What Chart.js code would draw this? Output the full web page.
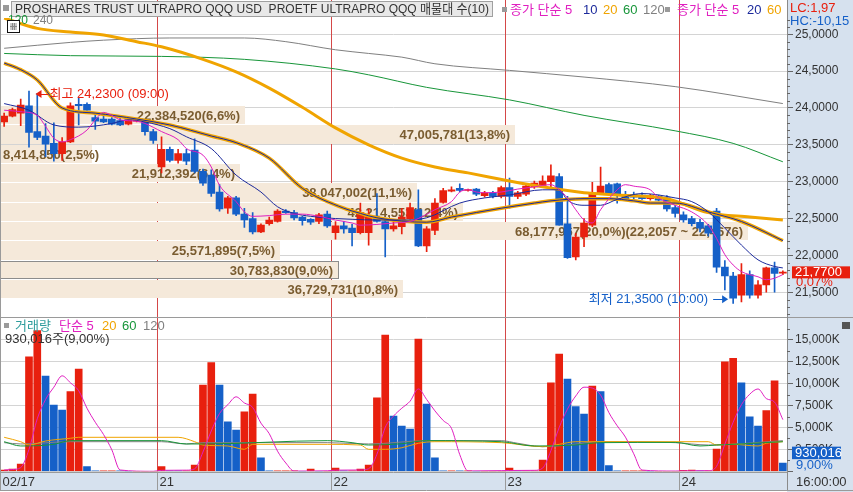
<!DOCTYPE html>
<html lang="ko">
<head>
  <meta charset="UTF-8">
  <meta name="viewport" content="width=device-width, initial-scale=1.0">
  <title>PROSHARES TRUST ULTRAPRO QQQ 매물대</title>
  <script src="https://cdn.jsdelivr.net/npm/chart.js"></script>
  <style>
    body, html { margin: 0; padding: 0; background: #fff; overflow: hidden; }
    canvas { display: block; }
  </style>
</head>
<body>
  <canvas id="chart" width="853" height="492"></canvas>
  <script>
    // days on the x axis and the bar where each one starts
    const dayLabels = ['02/17', '21', '22', '23', '24'];
    const dayStart = [0, 19, 40, 61, 82];

    // candles, one row per day
    const opens = [
      23.81, 23.89, 23.93, 24.03, 23.68, 23.62, 23.52, 23.38, 23.54, 24.05, 24.05, 23.87, 23.85, 23.85, 23.83, 23.78, 23.82, 23.81, 23.68,
      23.20, 23.44, 23.29, 23.38, 23.43, 23.14, 23.09, 22.86, 22.64, 22.78, 22.56, 22.50, 22.32, 22.43, 22.46, 22.60, 22.58, 22.52, 22.49, 22.46, 22.56,
      22.31, 22.40, 22.37, 22.31, 22.31, 22.50, 22.46, 22.36, 22.39, 22.50, 22.62, 22.13, 22.34, 22.72, 22.87, 22.91, 22.88, 22.90, 22.81, 22.85, 22.80,
      22.92, 22.80, 22.83, 22.93, 22.95, 23.00, 23.07, 22.43, 21.98, 22.25, 22.41, 22.84, 22.96, 22.97, 22.83, 22.83, 22.82, 22.77, 22.80, 22.78, 22.65,
      22.55, 22.50, 22.45, 22.40, 22.60, 21.84, 21.72, 21.46, 21.74, 21.46, 21.60, 21.83, 21.76
    ];
    const highs = [
      23.93, 24.00, 24.12, 24.23, 24.20, 23.79, 23.80, 23.60, 24.07, 24.14, 24.07, 23.91, 23.89, 23.87, 23.86, 23.85, 23.84, 23.84, 23.71,
      23.61, 23.47, 23.44, 23.44, 23.58, 23.17, 23.16, 22.96, 22.80, 22.80, 22.64, 22.58, 22.43, 22.52, 22.62, 22.62, 22.61, 22.53, 22.50, 22.57, 22.60,
      22.46, 22.46, 22.42, 22.71, 22.63, 22.84, 22.50, 22.46, 22.64, 22.71, 22.89, 22.39, 22.77, 22.91, 22.93, 22.97, 22.90, 22.91, 22.87, 22.87, 22.94,
      23.05, 22.87, 22.97, 23.01, 23.08, 23.23, 23.11, 22.80, 22.30, 22.50, 22.99, 23.20, 22.98, 22.98, 22.87, 22.86, 22.85, 22.83, 22.82, 22.81, 22.68,
      22.59, 22.53, 22.49, 22.42, 22.64, 21.93, 21.77, 21.89, 21.79, 21.66, 21.84, 21.91, 21.79
    ];
    const lows = [
      23.75, 23.88, 23.76, 23.47, 23.57, 23.34, 23.28, 23.29, 23.53, 23.77, 23.97, 23.71, 23.80, 23.77, 23.76, 23.77, 23.81, 23.63, 23.52,
      23.12, 23.27, 23.25, 23.23, 23.12, 22.95, 22.80, 22.60, 22.57, 22.54, 22.38, 22.29, 22.31, 22.41, 22.45, 22.57, 22.48, 22.41, 22.42, 22.43, 22.38,
      22.22, 22.30, 22.13, 22.29, 22.14, 22.45, 21.98, 22.33, 22.29, 22.49, 22.12, 22.05, 22.28, 22.71, 22.86, 22.86, 22.87, 22.81, 22.79, 22.78, 22.78,
      22.64, 22.77, 22.81, 22.91, 22.94, 22.93, 22.41, 21.96, 21.94, 22.12, 22.39, 22.84, 22.82, 22.71, 22.75, 22.77, 22.76, 22.75, 22.74, 22.60, 22.52,
      22.45, 22.40, 22.32, 22.26, 21.77, 21.53, 21.35, 21.37, 21.42, 21.42, 21.50, 21.50, 21.74
    ];
    const closes = [
      23.89, 23.98, 24.04, 23.67, 23.60, 23.51, 23.38, 23.54, 24.03, 24.03, 23.97, 23.82, 23.81, 23.78, 23.77, 23.84, 23.83, 23.68, 23.56,
      23.44, 23.29, 23.38, 23.28, 23.14, 22.98, 22.84, 22.63, 22.78, 22.56, 22.48, 22.32, 22.41, 22.48, 22.60, 22.58, 22.51, 22.47, 22.45, 22.55, 22.40,
      22.40, 22.36, 22.31, 22.58, 22.52, 22.46, 22.36, 22.40, 22.52, 22.65, 22.13, 22.36, 22.71, 22.88, 22.89, 22.88, 22.89, 22.83, 22.85, 22.80, 22.92,
      22.80, 22.85, 22.94, 22.98, 23.01, 23.08, 22.41, 21.97, 22.25, 22.44, 22.85, 22.94, 22.83, 22.83, 22.77, 22.79, 22.77, 22.81, 22.75, 22.63, 22.57,
      22.48, 22.43, 22.37, 22.30, 21.84, 21.72, 21.42, 21.74, 21.46, 21.60, 21.83, 21.755, 21.77
    ];
    // volume in thousand shares
    const volumes = [
      150, 260, 830, 13080, 16050, 10880, 7570, 7000, 9090, 11680, 530, 40, 40, 50, 30, 0, 0, 0, 0,
      530, 50, 40, 50, 720, 9850, 12400, 9850, 5660, 4710, 6800, 8820, 1550, 30, 30, 30, 30, 0, 260, 0, 0,
      380, 30, 30, 260, 720, 8400, 15560, 6310, 5170, 4830, 15100, 7680, 1550, 30, 40, 30, 30, 0, 0, 0, 0,
      380, 40, 40, 40, 1290, 10110, 13390, 10530, 7380, 6540, 9740, 9090, 640, 30, 30, 30, 30, 0, 0, 0, 0,
      120, 130, 40, 40, 2550, 12510, 12900, 10110, 6230, 5170, 6920, 10334, 930.016
    ];
    const highTime = '09:00';
    const lowTime = '10:00';

    // moving averages, [bar, value]
    const ma5 = [[0,23.97],[2,23.95],[4,23.90],[5,23.75],[6,23.59],[7,23.54],[8,23.57],[10,23.70],[11,23.84],[12,23.94],[13,23.90],[14,23.84],[16,23.82],[17,23.79],[19,23.68],[21,23.57],[22,23.45],[24,23.36],[25,23.20],[26,22.95],[28,22.73],[29,22.59],[30,22.53],[32,22.54],[34,22.56],[36,22.56],[38,22.53],[40,22.48],[42,22.44],[43,22.41],[45,22.42],[47,22.44],[49,22.46],[50,22.50],[52,22.62],[54,22.73],[55,22.86],[56,22.89],[57,22.86],[58,22.85],[60,22.86],[62,22.90],[64,22.93],[66,22.96],[67,22.89],[68,22.78],[69,22.62],[70,22.48],[71,22.44],[72,22.62],[74,22.89],[75,22.96],[76,22.94],[78,22.89],[79,22.78],[81,22.68],[83,22.59],[85,22.41],[86,22.23],[87,22.01],[88,21.87],[89,21.78],[91,21.71],[92,21.67],[93,21.69],[94,21.74]];
    const ma10 = [[0,24.06],[3,23.97],[6,23.77],[9,23.74],[13,23.79],[15,23.84],[17,23.81],[20,23.72],[22,23.61],[25,23.45],[28,23.09],[31,22.86],[33,22.66],[35,22.57],[37,22.53],[40,22.50],[42,22.49],[45,22.48],[48,22.48],[51,22.51],[55,22.71],[58,22.78],[61,22.82],[65,22.89],[67,22.89],[68,22.75],[70,22.68],[72,22.68],[74,22.76],[77,22.84],[81,22.78],[83,22.73],[85,22.59],[87,22.37],[89,22.14],[91,21.94],[93,21.85],[94,21.83]];
    const ma20 = [[0,24.61],[2,24.52],[4,24.38],[7,24.00],[11,23.93],[16,23.85],[20,23.77],[25,23.62],[28,23.53],[32,23.32],[36,22.91],[41,22.64],[43,22.57],[45,22.51],[51,22.45],[54,22.52],[60,22.64],[64,22.71],[66,22.74],[70,22.77],[73,22.77],[76,22.74],[78,22.71],[81,22.71],[85,22.59],[89,22.46],[94,22.20]];
    const ma60 = [[0,24.74],[8,24.71],[19,24.70],[29,24.66],[40,24.53],[44,24.45],[51,24.28],[61,24.11],[70,23.90],[81,23.69],[88,23.52],[94,23.27]];
    const ma120 = [[0,24.81],[8,24.89],[12,24.92],[20,24.95],[29,24.95],[34,24.90],[40,24.79],[44,24.74],[48,24.69],[52,24.60],[61,24.51],[70,24.42],[81,24.29],[94,24.06]];
    const dayMa60 = [[0,25.22],[4,25.08],[8,25.03],[12,24.99],[16,24.90],[19,24.83],[24,24.66],[28,24.49],[32,24.27],[36,24.01],[40,23.73],[44,23.50],[48,23.32],[52,23.20],[56,23.12],[61,23.01],[65,22.93],[70,22.85],[74,22.82],[80,22.77],[85,22.58],[90,22.52],[94,22.48]];

    // volume moving averages, [bar, thousand shares]
    const vma5 = [[0,150],[1,200],[2,420],[3,2500],[4,6000],[5,8200],[6,9600],[7,10900],[8,10100],[9,9200],[10,7200],[11,5600],[12,4200],[13,2450],[14,150],[18,0],[19,110],[22,130],[23,280],[24,2200],[25,4600],[26,6600],[27,7600],[28,8500],[29,7800],[30,7300],[31,5500],[32,4300],[33,2300],[34,950],[35,30],[39,60],[40,130],[43,150],[44,290],[45,1950],[46,5000],[47,6300],[48,7200],[49,8000],[50,9400],[51,8200],[52,6900],[53,5800],[54,4900],[55,1900],[56,40],[60,80],[61,90],[64,110],[65,360],[66,2350],[67,5000],[68,7100],[69,8600],[70,9600],[71,9500],[72,8700],[73,6700],[74,5200],[75,3900],[76,2000],[77,140],[81,30],[82,50],[85,70],[86,570],[87,3100],[88,5600],[89,7600],[90,8800],[91,9400],[92,8300],[93,7900],[94,5900]];
    const vma20 = [[0,3880],[2,3380],[3,3000],[5,3460],[8,3770],[9,3880],[21,3880],[23,3380],[24,3000],[27,2890],[29,2510],[30,3080],[39,3080],[43,3000],[44,2510],[46,2510],[48,2690],[50,3200],[52,3380],[60,3270],[65,2810],[67,3080],[69,3380],[85,3380],[86,3000],[88,3080],[91,2890],[92,3200],[94,3380]];
    const vma60 = [[0,3380],[2,2890],[6,3080],[8,3500],[19,3500],[22,3120],[24,3120],[39,3500],[42,3270],[44,3000],[48,3150],[51,3500],[60,3380],[64,2890],[69,3000],[72,3270],[81,3300],[84,2890],[86,3000],[89,3120],[94,3380]];
    const vma120 = [[0,3270],[2,3120],[8,3380],[19,3380],[22,3120],[24,3270],[39,3270],[44,3120],[51,3500],[60,3500],[62,3200],[65,2810],[68,3000],[72,3380],[81,3270],[85,3000],[94,3500]];

    // 매물대 (volume by price), lowest price band first
    const bandLow = 21.42;
    const bandStep = 0.2619;
    const bandVolumes = [36729731, 30783830, 25571895, 68177967, 42214553, 38047002, 21912392, 8414850, 47005781, 22384520];

    // axis ticks
    const priceStep = 0.5;
    const volumeStep = 2500;

    const FONT = '"Liberation Sans", "Noto Sans CJK KR", sans-serif';
    const RED = '#e8200e';
    const BLUE = '#1560c8';
    const NAVY = '#1c2a9c';
    const MAGENTA = '#e01fc0';
    const ORANGE = '#f0a400';
    const GREEN = '#18963a';
    const GRAY = '#808080';
    const AXIS_BG = '#d6e1ee';
    const BAND_BG = '#f5e9da';
    const BAND_TEXT = '#7a5c30';
    const DAY_LINE = '#d44848';

    const dec = (v, d) => v.toFixed(d).replace('.', ',');

    const barLabels = [];
    dayLabels.forEach((d, k) => {
      const end = k + 1 < dayStart.length ? dayStart[k + 1] : opens.length;
      for (let i = dayStart[k]; i < end; i++) barLabels.push(d + ' #' + (i - dayStart[k] + 1));
    });

    const candleColors = opens.map((o, i) => closes[i] >= o ? RED : BLUE);
    const volColors = volumes.map((v, i) => i === 0 || v >= volumes[i - 1] ? RED : BLUE);

    function maLine(points, color, width, axis, order) {
      return {
        type: 'line',
        data: points.map(([i, v]) => ({ x: barLabels[i], y: v })),
        borderColor: color,
        borderWidth: width,
        pointRadius: 0,
        fill: false,
        cubicInterpolationMode: 'monotone',
        yAxisID: axis,
        order: order
      };
    }

    // ticks at fixed steps, leaving out one that would sit on the panel edge
    function stepTicks(step) {
      return s => {
        const ticks = [];
        for (let k = Math.ceil(s.min / step); k * step <= s.max - step * 0.2; k++) ticks.push({ value: k * step });
        s.ticks = ticks;
      };
    }

    function text(ctx, s, x, y, color, size, align, bold, maxW) {
      ctx.font = (bold ? 'bold ' : '') + (size || 13) + 'px ' + FONT;
      ctx.fillStyle = color;
      ctx.textAlign = align || 'left';
      ctx.textBaseline = 'middle';
      if (maxW) ctx.fillText(s, x, y, maxW); else ctx.fillText(s, x, y);
    }

    function hline(ctx, x1, x2, y, color) {
      ctx.strokeStyle = color;
      ctx.beginPath(); ctx.moveTo(x1, y); ctx.lineTo(x2, y); ctx.stroke();
    }

    function vline(ctx, x, y1, y2, color) {
      ctx.strokeStyle = color;
      ctx.beginPath(); ctx.moveTo(x, y1); ctx.lineTo(x, y2); ctx.stroke();
    }

    const panelPlugin = {
      id: 'htsPanels',
      beforeDraw(chart) {
        const { ctx, chartArea: a, width, height } = chart;
        ctx.save();
        ctx.fillStyle = '#ffffff';
        ctx.fillRect(0, 0, width, height);
        ctx.fillStyle = AXIS_BG;
        ctx.fillRect(a.right, 0, width - a.right, height);
        ctx.fillRect(0, a.bottom + 1, a.right, 490 - a.bottom - 1);
        ctx.restore();
      },
      beforeDatasetsDraw(chart) {
        const { ctx, chartArea: a, scales: { x, y } } = chart;
        const catW = (x.right - x.left) / barLabels.length;
        ctx.save();
        ctx.lineWidth = 1;
        dayStart.slice(1).forEach(i => {
          const px = Math.round(x.getPixelForValue(i) - catW / 2) + 0.5;
          vline(ctx, px, 0, a.bottom, DAY_LINE);
        });

        const maxVol = Math.max(...bandVolumes);
        const total = bandVolumes.reduce((s, v) => s + v, 0);
        const fullW = (a.right - a.left) * 0.95;
        const last = closes[closes.length - 1];
        bandVolumes.forEach((v, k) => {
          const lo = bandLow + k * bandStep;
          const hi = lo + bandStep;
          const top = Math.round(y.getPixelForValue(hi)) + 1;
          const bot = Math.round(y.getPixelForValue(lo));
          const w = Math.round(fullW * v / maxVol);
          ctx.fillStyle = BAND_BG;
          ctx.fillRect(0, top, w, bot - top);
          if (last >= lo && last < hi) {
            ctx.strokeStyle = '#8c8c8c';
            ctx.strokeRect(0.5, top + 0.5, w, bot - top - 1);
          }
          let label = v.toLocaleString('en-US') + '(' + dec(v / total * 100, 1) + '%)';
          if (v === maxVol) label += '(' + dec(lo, 4) + ' ~ ' + dec(hi, 4) + ')';
          ctx.font = 'bold 13px ' + FONT;
          const tw = ctx.measureText(label).width;
          text(ctx, label, Math.max(3, w - 5 - tw), (top + bot) / 2 + 1, BAND_TEXT, 13, 'left', true);
        });
        ctx.restore();
      },
      afterDatasetsDraw(chart) {
        const { ctx, chartArea: a, scales: { x, y, yv }, width } = chart;
        const catW = (x.right - x.left) / barLabels.length;
        ctx.save();
        ctx.lineWidth = 1;

        // frame
        const sep = Math.round(y.bottom) + 0.5;
        hline(ctx, 0, width, sep, '#9a9a9a');
        vline(ctx, 0.5, 0, 490, '#9a9a9a');
        vline(ctx, Math.round(a.right) + 0.5, 0, 491, '#8a8a8a');
        hline(ctx, 0, Math.round(a.right), Math.round(a.bottom) + 1.5, '#9a9a9a');
        hline(ctx, 0, width, 490.5, '#9a9a9a');

        // minor ticks
        for (let k = Math.ceil(y.min * 10); k <= y.max * 10; k++) {
          if (k % 5 === 0) continue;
          const py = Math.round(y.getPixelForValue(k / 10)) + 0.5;
          hline(ctx, a.right, a.right + 3, py, '#666');
        }
        for (let v = volumeStep / 2; v < yv.max; v += volumeStep) {
          const py = Math.round(yv.getPixelForValue(v)) + 0.5;
          hline(ctx, a.right, a.right + 3, py, '#666');
        }

        // date axis
        dayStart.forEach((i, k) => {
          const px = Math.round(x.getPixelForValue(i) - catW / 2) + 0.5;
          if (k > 0) vline(ctx, px, a.bottom + 1, 490, '#9a9a9a');
          text(ctx, dayLabels[k], Math.max(px, 0) + 2, 482, '#333', 13);
        });
        text(ctx, '16:00:00', a.right + 9, 482, '#333', 13);

        // title bar and legends
        ctx.fillStyle = '#999'; ctx.fillRect(3, 5, 6, 6);
        ctx.fillStyle = '#e8e8e8'; ctx.fillRect(11.5, 1.5, 481, 15);
        ctx.strokeStyle = '#a0a0a0'; ctx.strokeRect(11.5, 1.5, 481, 15);
        text(ctx, 'PROSHARES TRUST ULTRAPRO QQQ USD  PROETF ULTRAPRO QQQ 매물대 수(10)', 15, 9.5, '#333', 13, 'left', false, 474);

        ctx.fillStyle = '#9a9a9a'; ctx.fillRect(502, 7, 5, 5);
        text(ctx, '종가 단순 5', 510, 10, MAGENTA);
        text(ctx, '10', 583, 10, NAVY);
        text(ctx, '20', 603, 10, ORANGE);
        text(ctx, '60', 623, 10, GREEN);
        text(ctx, '120', 643, 10, GRAY);
        ctx.fillStyle = '#9a9a9a'; ctx.fillRect(665, 7, 5, 5);
        text(ctx, '종가 단순 5', 677, 10, MAGENTA);
        text(ctx, '20', 747, 10, NAVY);
        text(ctx, '60', 767, 10, ORANGE);

        text(ctx, '120', 8, 21, GREEN, 12);
        text(ctx, '240', 33, 21, GRAY, 12);
        ctx.fillStyle = '#ffffff'; ctx.fillRect(7, 20, 13, 13);
        ctx.strokeStyle = '#111'; ctx.strokeRect(7.5, 20.5, 12, 12);
        ctx.fillStyle = '#c8c8c8'; ctx.fillRect(10, 23, 7, 7);
        vline(ctx, 12.5, 23, 30, '#888'); vline(ctx, 14.5, 23, 30, '#888'); hline(ctx, 10, 17, 26.5, '#888');

        const last = closes[closes.length - 1];
        const hiVal = Math.max(...highs);
        const loVal = Math.min(...lows);
        text(ctx, 'LC:' + dec((last / loVal - 1) * 100, 2), a.right + 3, 8, RED);
        text(ctx, 'HC:' + dec((last / hiVal - 1) * 100, 2), a.right + 3, 21, BLUE);

        // highest / lowest markers
        const hi = highs.indexOf(hiVal);
        const hx = x.getPixelForValue(hi) + 6.5;
        const hy = y.getPixelForValue(hiVal) + 3;
        ctx.fillStyle = RED; ctx.strokeStyle = RED;
        ctx.beginPath(); ctx.moveTo(hx, hy); ctx.lineTo(hx + 6, hy - 4); ctx.lineTo(hx + 6, hy + 4); ctx.closePath(); ctx.fill();
        hline(ctx, hx + 5, hx + 13, Math.round(hy) + 0.5, RED);
        text(ctx, '최고 ' + dec(hiVal, 4) + ' (' + highTime + ')', hx + 14, hy, RED);

        const lo = lows.indexOf(loVal);
        const lx = x.getPixelForValue(lo) - 5;
        const ly = y.getPixelForValue(loVal) - 4;
        ctx.fillStyle = BLUE;
        ctx.beginPath(); ctx.moveTo(lx, ly); ctx.lineTo(lx - 6, ly - 4); ctx.lineTo(lx - 6, ly + 4); ctx.closePath(); ctx.fill();
        hline(ctx, lx - 15, lx - 5, Math.round(ly) + 0.5, BLUE);
        text(ctx, '최저 ' + dec(loVal, 4) + ' (' + lowTime + ')', lx - 20, ly, BLUE, 13, 'right');

        // current price box
        const py = y.getPixelForValue(last);
        ctx.fillStyle = RED; ctx.fillRect(a.right + 5, py - 6, 58, 12);
        text(ctx, dec(last, 4), a.right + 8, py, '#fff');
        text(ctx, dec((last / closes[closes.length - 2] - 1) * 100, 2) + '%', a.right + 9, py + 10, RED);

        // volume legend and current volume box
        const lastVol = volumes[volumes.length - 1];
        const volPct = dec(lastVol / volumes[volumes.length - 2] * 100, 2);
        const vTop = Math.round(yv.top);
        ctx.fillStyle = '#9a9a9a'; ctx.fillRect(4, vTop + 6, 5, 5);
        text(ctx, '거래량', 15, vTop + 9, '#2e9c9c');
        text(ctx, '단순 5', 59, vTop + 9, MAGENTA);
        text(ctx, '20', 102, vTop + 9, ORANGE);
        text(ctx, '60', 122, vTop + 9, GREEN);
        text(ctx, '120', 143, vTop + 9, GRAY);
        text(ctx, Math.round(lastVol * 1000).toLocaleString('en-US') + '주(' + volPct + '%)', 5, vTop + 22, '#333');

        const vy = yv.getPixelForValue(lastVol);
        ctx.fillStyle = BLUE; ctx.fillRect(a.right + 5, vy - 16.5, 49, 12.5);
        text(ctx, Math.round(lastVol * 1000).toLocaleString('en-US'), a.right + 8, vy - 10, '#fff');
        text(ctx, volPct + '%', a.right + 9, vy + 2, BLUE);

        ctx.fillStyle = '#555'; ctx.fillRect(842, vTop + 5, 8, 7);
        ctx.restore();
      }
    };

    Chart.defaults.font.family = FONT;

    new Chart(document.getElementById('chart'), {
      data: {
        labels: barLabels,
        datasets: [
          maLine(ma5, MAGENTA, 1, 'y', 1),
          maLine(ma10, NAVY, 1, 'y', 2),
          maLine(ma20, NAVY, 1, 'y', 3),
          maLine(ma20, ORANGE, 3.5, 'y', 4),
          maLine(dayMa60, ORANGE, 3, 'y', 5),
          maLine(ma60, GREEN, 1, 'y', 6),
          maLine(ma120, GRAY, 1, 'y', 7),
          {
            type: 'bar',
            data: opens.map((o, i) => [o, closes[i]]),
            backgroundColor: candleColors,
            barThickness: 7,
            minBarLength: 1,
            grouped: false,
            yAxisID: 'y',
            order: 10
          },
          {
            type: 'bar',
            data: lows.map((l, i) => [l, highs[i]]),
            backgroundColor: candleColors,
            barThickness: 1,
            grouped: false,
            yAxisID: 'y',
            order: 11
          },
          maLine(vma5, MAGENTA, 1, 'yv', 1),
          maLine(vma20, ORANGE, 1, 'yv', 3),
          maLine(vma60, GREEN, 1, 'yv', 2),
          maLine(vma120, GRAY, 1, 'yv', 4),
          {
            type: 'bar',
            data: volumes,
            backgroundColor: volColors,
            barThickness: 7,
            grouped: false,
            yAxisID: 'yv',
            order: 10
          }
        ]
      },
      options: {
        responsive: false,
        devicePixelRatio: 1,
        animation: false,
        events: [],
        layout: { padding: { top: 18, bottom: 20.7, left: -1, right: 0 } },
        plugins: { legend: { display: false }, tooltip: { enabled: false } },
        scales: {
          x: { type: 'category', offset: true, display: false, grid: { display: false } },
          y: {
            type: 'linear', position: 'right', stack: 'panels', stackWeight: 298.5,
            min: 21.171, max: 25.221,
            border: { display: false },
            grid: { color: '#d4d4d4', tickLength: 6, tickColor: '#666' },
            ticks: { autoSkip: false, color: '#333', font: { size: 12 }, padding: 2, callback: v => dec(v, 4) },
            afterBuildTicks: stepTicks(priceStep),
            afterFit: s => { s.width = 66; }
          },
          yv: {
            type: 'linear', position: 'right', stack: 'panels', stackWeight: 154.8,
            min: 0, max: 17671,
            border: { display: false },
            grid: { color: '#d4d4d4', tickLength: 6, tickColor: '#666' },
            ticks: { autoSkip: false, color: '#333', font: { size: 12 }, padding: 2,
                     callback: v => v === 0 ? '' : v.toLocaleString('en-US') + 'K' },
            afterBuildTicks: stepTicks(volumeStep),
            afterFit: s => { s.width = 66; }
          }
        }
      },
      plugins: [panelPlugin]
    });
  </script>
</body>
</html>
